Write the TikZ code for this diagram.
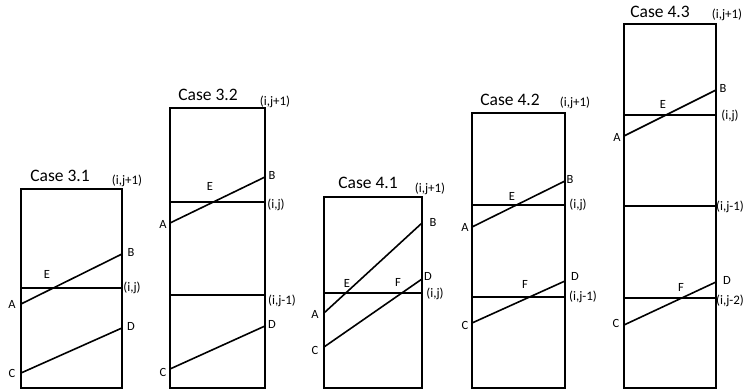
\documentclass[tikz,border=0pt]{standalone}
\usepackage{fontspec}
\setmainfont{Carlito}
\usepackage{tikz}
\usetikzlibrary{positioning, calc}

\begin{document}
\begin{tikzpicture}[
    x = 1pt, y = -1pt,
    cell/.style    = { draw=black, line width=1.8pt },
    divider/.style = { draw=black, line width=1.8pt },
    seg/.style     = { draw=black, line width=1.6pt },
    lbl/.style     = { font=\fontsize{12.5}{14}\selectfont, inner sep=0pt },
    idx/.style     = { font=\fontsize{13}{15}\selectfont, inner sep=0pt },
    casetitle/.style = { font=\fontsize{17.5}{20}\selectfont, inner sep=0pt },
]
\useasboundingbox (0,0) rectangle (753,390);

%% ── Case 3.1 ─────────────────────────────────────────────────────────────
\draw[cell] (21,189) rectangle (122,388);
\draw[divider] (21,288) -- (122,288);
\coordinate (a31) at (21,304);  \coordinate (b31) at (122,254);
\coordinate (c31) at (21,373);  \coordinate (d31) at (122,328);
\draw[seg] (a31) -- (b31);
\draw[seg] (c31) -- (d31);

\node[casetitle] (t31)   at (60,176)  {Case 3.1};
\node[idx]       (n31a)  at (127,181) {(i,j+1)};
\node[idx]       (n31b)  at (132,288) {(i,j)};
\node[lbl]       (lb31)  at (131,252) {B};
\node[lbl]       (le31)  at (47,274)  {E};
\node[lbl]       (la31)  at (12,304)  {A};
\node[lbl]       (ld31)  at (131,326) {D};
\node[lbl]       (lc31)  at (12,373)  {C};

%% ── Case 3.2 ─────────────────────────────────────────────────────────────
\draw[cell] (170,108) rectangle (265,388);
\draw[divider] (170,202) -- (265,202);
\draw[divider] (170,295) -- (265,295);
\coordinate (a32) at (170,223); \coordinate (b32) at (265,177);
\coordinate (c32) at (170,369); \coordinate (d32) at (265,326);
\draw[seg] (a32) -- (b32);
\draw[seg] (c32) -- (d32);

\node[casetitle] (t32)   at (208,95)  {Case 3.2};
\node[idx]       (n32a)  at (275,102) {(i,j+1)};
\node[idx]       (n32b)  at (276,205) {(i,j)};
\node[idx]       (n32c)  at (282,301) {(i,j-1)};
\node[lbl]       (lb32)  at (272,175) {B};
\node[lbl]       (le32)  at (210,186) {E};
\node[lbl]       (la32)  at (163,224) {A};
\node[lbl]       (ld32)  at (272,324) {D};
\node[lbl]       (lc32)  at (163,372) {C};

%% ── Case 4.1 ─────────────────────────────────────────────────────────────
\draw[cell] (324,197) rectangle (422,388);
\draw[divider] (324,293) -- (422,293);
\coordinate (a41) at (324,313); \coordinate (b41) at (422,223);
\coordinate (c41) at (324,347); \coordinate (d41) at (422,279);
\draw[seg] (a41) -- (b41);
\draw[seg] (c41) -- (d41);

\node[casetitle] (t41)   at (368,183) {Case 4.1};
\node[idx]       (n41a)  at (430,189) {(i,j+1)};
\node[idx]       (n41b)  at (435,294) {(i,j)};
\node[lbl]       (lb41)  at (433,222) {B};
\node[lbl]       (le41)  at (347,283) {E};
\node[lbl]       (lf41)  at (398,282) {F};
\node[lbl]       (ld41)  at (428,276) {D};
\node[lbl]       (la41)  at (315,314) {A};
\node[lbl]       (lc41)  at (315,350) {C};

%% ── Case 4.2 ─────────────────────────────────────────────────────────────
\draw[cell] (472,113) rectangle (565,388);
\draw[divider] (472,205) -- (565,205);
\draw[divider] (472,297) -- (565,297);
\coordinate (a42) at (472,227); \coordinate (b42) at (565,181);
\coordinate (c42) at (472,323); \coordinate (d42) at (565,281);
\draw[seg] (a42) -- (b42);
\draw[seg] (c42) -- (d42);

\node[casetitle] (t42)   at (510,100) {Case 4.2};
\node[idx]       (n42a)  at (575,103) {(i,j+1)};
\node[idx]       (n42b)  at (578,205) {(i,j)};
\node[idx]       (n42c)  at (583,297) {(i,j-1)};
\node[lbl]       (lb42)  at (570,179) {B};
\node[lbl]       (le42)  at (512,196) {E};
\node[lbl]       (la42)  at (465,227) {A};
\node[lbl]       (ld42)  at (575,276) {D};
\node[lbl]       (lf42)  at (525,284) {F};
\node[lbl]       (lc42)  at (465,325) {C};

%% ── Case 4.3 ─────────────────────────────────────────────────────────────
\draw[cell] (624,24) rectangle (716,388);
\draw[divider] (624,115) -- (716,115);
\draw[divider] (624,206) -- (716,206);
\draw[divider] (624,298) -- (716,298);
\coordinate (a43) at (624,136); \coordinate (b43) at (716,90);
\coordinate (c43) at (624,325); \coordinate (d43) at (716,282);
\draw[seg] (a43) -- (b43);
\draw[seg] (c43) -- (d43);

\node[casetitle] (t43)   at (660,12)  {Case 4.3};
\node[idx]       (n43a)  at (727,15)  {(i,j+1)};
\node[idx]       (n43b)  at (730,116) {(i,j)};
\node[idx]       (n43c)  at (730,207) {(i,j-1)};
\node[idx]       (n43d)  at (730,301) {(i,j-2)};
\node[lbl]       (lb43)  at (723,88)  {B};
\node[lbl]       (le43)  at (663,104) {E};
\node[lbl]       (la43)  at (617,137) {A};
\node[lbl]       (ld43)  at (727,280) {D};
\node[lbl]       (lf43)  at (681,287) {F};
\node[lbl]       (lc43)  at (616,323) {C};

\end{tikzpicture}
\end{document}
